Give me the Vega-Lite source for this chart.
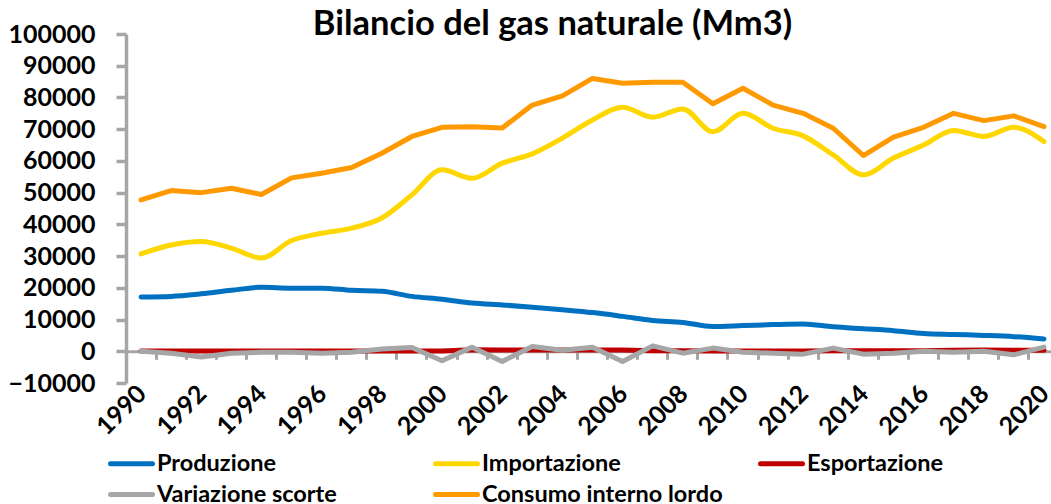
{
  "$schema": "https://vega.github.io/schema/vega-lite/v6.json",
  "autosize": {"type": "none"},
  "padding": {"left": 126, "top": 34, "right": 0, "bottom": 121},
  "width": 925,
  "height": 349,
  "background": "white",
  "title": {
    "text": "Bilancio del gas naturale (Mm3)",
    "font": "Lato",
    "fontSize": 34.5,
    "fontWeight": "bold",
    "color": "black",
    "anchor": "middle",
    "frame": "group",
    "dx": -36,
    "baseline": "alphabetic",
    "offset": -47
  },
  "data": {
    "values": [
      {"anno": "1990", "Produzione": 17100, "Importazione": 30700, "Esportazione": 100, "Variazione scorte": 0, "Consumo interno lordo": 47700},
      {"anno": "1991", "Produzione": 17300, "Importazione": 33500, "Esportazione": 100, "Variazione scorte": -600, "Consumo interno lordo": 50650},
      {"anno": "1992", "Produzione": 18100, "Importazione": 34600, "Esportazione": 100, "Variazione scorte": -1800, "Consumo interno lordo": 50000},
      {"anno": "1993", "Produzione": 19200, "Importazione": 32500, "Esportazione": 100, "Variazione scorte": -600, "Consumo interno lordo": 51400},
      {"anno": "1994", "Produzione": 20200, "Importazione": 29400, "Esportazione": 100, "Variazione scorte": -300, "Consumo interno lordo": 49400},
      {"anno": "1995", "Produzione": 19900, "Importazione": 34900, "Esportazione": 100, "Variazione scorte": -300, "Consumo interno lordo": 54650},
      {"anno": "1996", "Produzione": 19900, "Importazione": 37200, "Esportazione": 100, "Variazione scorte": -600, "Consumo interno lordo": 56100},
      {"anno": "1997", "Produzione": 19200, "Importazione": 38800, "Esportazione": 100, "Variazione scorte": -300, "Consumo interno lordo": 57900},
      {"anno": "1998", "Produzione": 18900, "Importazione": 42000, "Esportazione": 100, "Variazione scorte": 700, "Consumo interno lordo": 62400},
      {"anno": "1999", "Produzione": 17300, "Importazione": 49300, "Esportazione": 100, "Variazione scorte": 1200, "Consumo interno lordo": 67700},
      {"anno": "2000", "Produzione": 16400, "Importazione": 57200, "Esportazione": 100, "Variazione scorte": -3000, "Consumo interno lordo": 70600},
      {"anno": "2001", "Produzione": 15200, "Importazione": 54500, "Esportazione": 500, "Variazione scorte": 1300, "Consumo interno lordo": 70800},
      {"anno": "2002", "Produzione": 14600, "Importazione": 59300, "Esportazione": 400, "Variazione scorte": -3200, "Consumo interno lordo": 70400},
      {"anno": "2003", "Produzione": 13900, "Importazione": 62200, "Esportazione": 400, "Variazione scorte": 1500, "Consumo interno lordo": 77600},
      {"anno": "2004", "Produzione": 13100, "Importazione": 67200, "Esportazione": 400, "Variazione scorte": 300, "Consumo interno lordo": 80500},
      {"anno": "2005", "Produzione": 12200, "Importazione": 72900, "Esportazione": 400, "Variazione scorte": 1300, "Consumo interno lordo": 86000},
      {"anno": "2006", "Produzione": 11000, "Importazione": 76900, "Esportazione": 400, "Variazione scorte": -3200, "Consumo interno lordo": 84500},
      {"anno": "2007", "Produzione": 9700, "Importazione": 73800, "Esportazione": 200, "Variazione scorte": 1700, "Consumo interno lordo": 84800},
      {"anno": "2008", "Produzione": 9100, "Importazione": 76400, "Esportazione": 200, "Variazione scorte": -600, "Consumo interno lordo": 84800},
      {"anno": "2009", "Produzione": 7800, "Importazione": 69200, "Esportazione": 100, "Variazione scorte": 1000, "Consumo interno lordo": 78000},
      {"anno": "2010", "Produzione": 8100, "Importazione": 75000, "Esportazione": 100, "Variazione scorte": -300, "Consumo interno lordo": 82900},
      {"anno": "2011", "Produzione": 8400, "Importazione": 70300, "Esportazione": 100, "Variazione scorte": -600, "Consumo interno lordo": 77600},
      {"anno": "2012", "Produzione": 8600, "Importazione": 67900, "Esportazione": 100, "Variazione scorte": -900, "Consumo interno lordo": 75000},
      {"anno": "2013", "Produzione": 7700, "Importazione": 61900, "Esportazione": 200, "Variazione scorte": 1000, "Consumo interno lordo": 70300},
      {"anno": "2014", "Produzione": 7100, "Importazione": 55600, "Esportazione": 200, "Variazione scorte": -900, "Consumo interno lordo": 61700},
      {"anno": "2015", "Produzione": 6500, "Importazione": 60900, "Esportazione": 200, "Variazione scorte": -600, "Consumo interno lordo": 67500},
      {"anno": "2016", "Produzione": 5600, "Importazione": 65000, "Esportazione": 200, "Variazione scorte": 0, "Consumo interno lordo": 70600},
      {"anno": "2017", "Produzione": 5300, "Importazione": 69600, "Esportazione": 300, "Variazione scorte": -300, "Consumo interno lordo": 75000},
      {"anno": "2018", "Produzione": 5000, "Importazione": 67700, "Esportazione": 400, "Variazione scorte": 0, "Consumo interno lordo": 72700},
      {"anno": "2019", "Produzione": 4600, "Importazione": 70600, "Esportazione": 300, "Variazione scorte": -1100, "Consumo interno lordo": 74200},
      {"anno": "2020", "Produzione": 3900, "Importazione": 66100, "Esportazione": 300, "Variazione scorte": 1300, "Consumo interno lordo": 70800}
    ]
  },
  "transform": [
    {"fold": ["Produzione", "Importazione", "Esportazione", "Variazione scorte", "Consumo interno lordo"], "as": ["serie", "valore"]}
  ],
  "encoding": {
    "x": {
      "field": "anno",
      "type": "ordinal",
      "bandPosition": 0.5,
      "scale": {"type": "band", "paddingInner": 0, "paddingOuter": 0, "range": [0, 933]},
      "axis": {
        "title": null,
        "grid": false,
        "bandPosition": 0,
        "labelOffset": 1,
        "offset": -31.7,
        "domainColor": "#A6A6A6",
        "domainWidth": 3,
        "tickColor": "#A6A6A6",
        "tickWidth": 3,
        "tickSize": 8,
        "labelAngle": -45,
        "labelAlign": "right",
        "labelBaseline": "middle",
        "labelPadding": 30,
        "labelFont": "Lato",
        "labelFontSize": 25,
        "labelFontWeight": "bold",
        "labelColor": "black",
        "labelOverlap": false,
        "labelExpr": "parseInt(datum.value) % 2 == 0 ? datum.label : ''"
      }
    },
    "y": {
      "field": "valore",
      "type": "quantitative",
      "scale": {"domain": [-10000, 100000], "nice": false, "zero": false},
      "axis": {
        "title": null,
        "grid": false,
        "values": [-10000, 0, 10000, 20000, 30000, 40000, 50000, 60000, 70000, 80000, 90000, 100000],
        "format": "d",
        "domainColor": "#A6A6A6",
        "domainWidth": 3.5,
        "tickColor": "#A6A6A6",
        "tickWidth": 3.5,
        "tickSize": 10,
        "labelPadding": 21,
        "labelFont": "Lato",
        "labelFontSize": 25,
        "labelFontWeight": "bold",
        "labelColor": "black"
      }
    },
    "color": {
      "field": "serie",
      "type": "nominal",
      "scale": {
        "domain": ["Produzione", "Importazione", "Esportazione", "Variazione scorte", "Consumo interno lordo"],
        "range": ["#0070C0", "#FFD700", "#C00000", "#A6A6A6", "#FF9900"]
      },
      "legend": {
        "title": null,
        "orient": "none",
        "legendX": -7.5,
        "legendY": 416.5,
        "direction": "horizontal",
        "columns": 3,
        "gridAlign": "all",
        "columnPadding": 27,
        "rowPadding": 6,
        "padding": 0,
        "symbolType": "M-2,0H2",
        "symbolSize": 441,
        "symbolStrokeWidth": 5,
        "labelFont": "Lato",
        "labelFontSize": 23.5,
        "labelFontWeight": "bold",
        "labelColor": "black",
        "labelOffset": 12.5,
        "labelLimit": 400,
        "encode": {"symbols": {"update": {"strokeCap": {"value": "round"}}}}
      }
    }
  },
  "layer": [
    {
      "transform": [{"filter": {"field": "serie", "oneOf": ["Produzione", "Importazione"]}}],
      "mark": {"type": "line", "strokeWidth": 5, "interpolate": "monotone", "strokeCap": "round", "strokeJoin": "round"}
    },
    {
      "transform": [{"filter": {"field": "serie", "equal": "Esportazione"}}],
      "mark": {"type": "line", "strokeWidth": 5, "strokeCap": "round", "strokeJoin": "round"}
    },
    {
      "transform": [{"filter": {"field": "serie", "equal": "Variazione scorte"}}],
      "mark": {"type": "line", "strokeWidth": 5, "strokeCap": "round", "strokeJoin": "round"}
    },
    {
      "transform": [{"filter": {"field": "serie", "equal": "Consumo interno lordo"}}],
      "mark": {"type": "line", "strokeWidth": 5, "strokeCap": "round", "strokeJoin": "round"}
    }
  ],
  "config": {"view": {"stroke": null}}
}
